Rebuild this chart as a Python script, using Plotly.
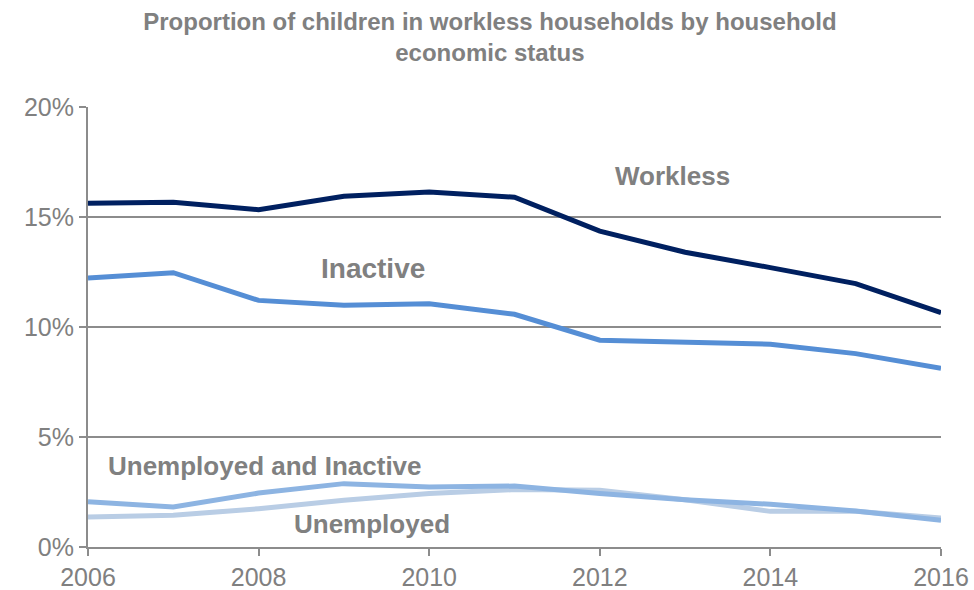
import plotly.graph_objects as go

years = [2006, 2007, 2008, 2009, 2010, 2011, 2012, 2013, 2014, 2015, 2016]
workless = [15.62, 15.67, 15.33, 15.94, 16.14, 15.90, 14.36, 13.40, 12.70, 11.97, 10.65]
inactive = [12.23, 12.47, 11.21, 10.99, 11.06, 10.58, 9.40, 9.33, 9.22, 8.79, 8.12]
unemp_inactive = [2.06, 1.82, 2.45, 2.88, 2.73, 2.77, 2.43, 2.15, 1.94, 1.64, 1.21]
unemployed = [1.36, 1.44, 1.74, 2.12, 2.43, 2.61, 2.58, 2.15, 1.62, 1.62, 1.32]

y_ticks = [0, 5, 10, 15, 20]
y_tick_labels = ["0%", "5%", "10%", "15%", "20%"]
x_ticks = [2006, 2008, 2010, 2012, 2014, 2016]

GRAY = "#808080"
FONT = "Liberation Sans, Arial, sans-serif"

fig = go.Figure()
series = [
    ("Unemployed", unemployed, "#B9CDE5"),
    ("Unemployed and Inactive", unemp_inactive, "#8DB4E2"),
    ("Inactive", inactive, "#558ED5"),
    ("Workless", workless, "#002060"),
]
for name, vals, col in series:
    fig.add_trace(go.Scatter(x=years, y=vals, mode="lines", name=name,
                             line=dict(color=col, width=5)))

annots = [
    ("Workless", 2012.85, 16.86, 26),
    ("Inactive", 2009.34, 12.68, 28),
    ("Unemployed and Inactive", 2008.07, 3.68, 26),
    ("Unemployed", 2009.33, 1.05, 26),
]
for txt, x, y, sz in annots:
    fig.add_annotation(x=x, y=y, text="<b>%s</b>" % txt, showarrow=False,
                       font=dict(family=FONT, size=sz, color=GRAY))

fig.update_layout(
    width=974, height=590,
    paper_bgcolor="white", plot_bgcolor="white",
    margin=dict(l=88, r=33, t=107, b=43, autoexpand=False),
    showlegend=False,
    title=dict(text="<b>Proportion of children in workless households by household<br>economic status</b>",
               x=0.503, xanchor="center", yref="container", y=1 - 30 / 590, yanchor="middle",
               font=dict(family=FONT, size=24, color=GRAY)),
    font=dict(family=FONT, color=GRAY),
)
fig.update_xaxes(range=[2006, 2016], tickvals=x_ticks, showgrid=False, automargin=False,
                 showline=True, linecolor="#8c8c8c", linewidth=2,
                 ticks="outside", ticklen=7, tickcolor="#8c8c8c", tickwidth=2,
                 tickfont=dict(family=FONT, size=25, color=GRAY), zeroline=False)
fig.update_yaxes(range=[0, 20], tickvals=y_ticks, ticktext=y_tick_labels, automargin=False,
                 showgrid=True, gridcolor="#8c8c8c", gridwidth=1.5,
                 showline=True, linecolor="#8c8c8c", linewidth=2,
                 ticks="outside", ticklen=7, tickcolor="#8c8c8c", tickwidth=2,
                 tickfont=dict(family=FONT, size=25, color=GRAY), zeroline=False)

fig.write_html("out.html", config={"displayModeBar": False},
               post_script="document.body.style.margin='0';document.body.style.padding='0';")
